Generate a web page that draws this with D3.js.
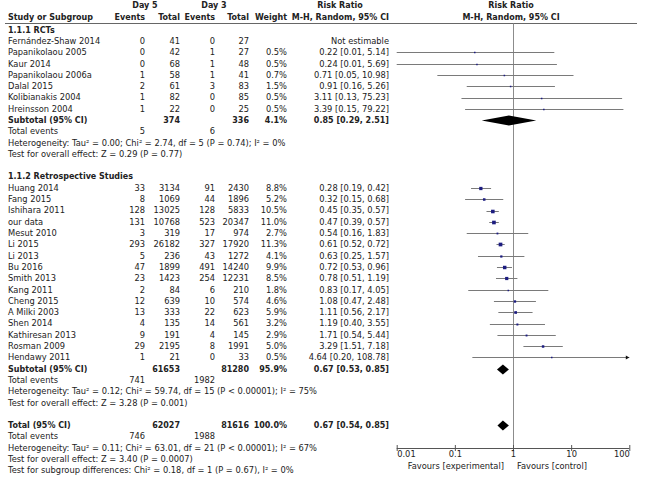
<!DOCTYPE html>
<html><head><meta charset="utf-8">
<script src="https://cdn.jsdelivr.net/npm/d3@7"></script>
<style>
html,body{margin:0;padding:0;background:#fff;}
text{font-family:"DejaVu Sans",sans-serif;font-size:8.3px;fill:#222;}
text.b{font-weight:bold;font-size:8px;}
</style></head>
<body>
<svg id="c" width="652" height="480"></svg>
<script>
// ---------- data ----------
const rctNames = ["Fernández-Shaw 2014","Papanikolaou 2005","Kaur 2014","Papanikolaou 2006a","Dalal 2015","Kolibianakis 2004","Hreinsson 2004"];
const rctEv5   = [0,0,0,1,2,1,1];
const rctTot5  = [41,42,68,58,61,82,22];
const rctEv3   = [0,1,1,1,3,0,0];
const rctTot3  = [27,27,48,41,83,85,25];
const rctWeight= [null,0.5,0.5,0.7,1.5,0.5,0.5];
const rctRR    = [null,0.22,0.24,0.71,0.91,3.11,3.39];
const rctLo    = [null,0.01,0.01,0.05,0.16,0.13,0.15];
const rctHi    = [null,5.14,5.69,10.98,5.26,75.23,79.22];
const rctSub   = {tot5:374, tot3:336, w:4.1, rr:0.85, lo:0.29, hi:2.51, ev5:5, ev3:6};
const rctHet   = "Heterogeneity: Tau² = 0.00; Chi² = 2.74, df = 5 (P = 0.74); I² = 0%";
const rctTest  = "Test for overall effect: Z = 0.29 (P = 0.77)";

const retNames = ["Huang 2014","Fang 2015","Ishihara 2011","our data","Mesut 2010","Li 2015","Li 2013","Bu 2016","Smith 2013","Kang 2011","Cheng 2015","A Milki 2003","Shen 2014","Kathiresan 2013","Rosman 2009","Hendawy 2011"];
const retEv5   = [33,8,128,131,3,293,5,47,23,2,12,13,4,9,29,1];
const retTot5  = [3134,1069,13025,10768,319,26182,236,1899,1423,84,639,333,135,191,2195,21];
const retEv3   = [91,44,128,523,17,327,43,491,254,6,10,22,14,4,8,0];
const retTot3  = [2430,1896,5833,20347,974,17920,1272,14240,12231,210,574,623,561,145,1991,33];
const retWeight= [8.8,5.2,10.5,11.0,2.7,11.3,4.1,9.9,8.5,1.8,4.6,5.9,3.2,2.9,5.0,0.5];
const retRR    = [0.28,0.32,0.45,0.47,0.54,0.61,0.63,0.72,0.78,0.83,1.08,1.11,1.19,1.71,3.29,4.64];
const retLo    = [0.19,0.15,0.35,0.39,0.16,0.52,0.25,0.53,0.51,0.17,0.47,0.56,0.40,0.54,1.51,0.20];
const retHi    = [0.42,0.68,0.57,0.57,1.83,0.72,1.57,0.96,1.19,4.05,2.48,2.17,3.55,5.44,7.18,108.78];
const retSub   = {tot5:61653, tot3:81280, w:95.9, rr:0.67, lo:0.53, hi:0.85, ev5:741, ev3:1982};
const retHet   = "Heterogeneity: Tau² = 0.12; Chi² = 59.74, df = 15 (P < 0.00001); I² = 75%";
const retTest  = "Test for overall effect: Z = 3.28 (P = 0.001)";

const total    = {tot5:62027, tot3:81616, w:100.0, rr:0.67, lo:0.54, hi:0.85, ev5:746, ev3:1988};
const totHet   = "Heterogeneity: Tau² = 0.11; Chi² = 63.01, df = 21 (P < 0.00001); I² = 67%";
const totTest  = "Test for overall effect: Z = 3.40 (P = 0.0007)";
const subgroupTest = "Test for subgroup differences: Chi² = 0.18, df = 1 (P = 0.67), I² = 0%";

const tickValues = [0.01,0.1,1,10,100];
const tickLabels = ["0.01","0.1","1","10","100"];

// ---------- layout ----------
const svg = d3.select("#c");
const x = d3.scaleLog().domain([0.01,100]).range([396.7,629.3]);
const rowY = i => 7.1 + 11.3*i;
const col = {name:8, ev5:145, tot5:180, ev3:215, tot3:249, w:287, rr:389};
const fmt2 = d3.format(".2f");
const rrText = (r,l,h) => `${fmt2(r)} [${fmt2(l)}, ${fmt2(h)}]`;

function txt(xx, yy, s, anchor, bold){
  svg.append("text").attr("x",xx).attr("y",yy).attr("dy","0.35em")
    .attr("text-anchor",anchor||"start").attr("class",bold?"b":null).text(s);
}

// headers
txt(145,5.5,"Day 5","middle",true);
txt(214,5.5,"Day 3","middle",true);
txt(340,5.5,"Risk Ratio","middle",true);
txt(511,5.5,"Risk Ratio","middle",true);
txt(col.name,17,"Study or Subgroup","start",true);
txt(col.ev5,17,"Events","end",true);
txt(col.tot5,17,"Total","end",true);
txt(col.ev3,17,"Events","end",true);
txt(col.tot3,17,"Total","end",true);
txt(col.w,17,"Weight","end",true);
txt(col.rr,17,"M-H, Random, 95% CI","end",true);
txt(511,17,"M-H, Random, 95% CI","middle",true);
svg.append("line").attr("x1",5).attr("x2",637).attr("y1",23.5).attr("y2",23.5)
  .attr("stroke","#666").attr("stroke-width",1);

// null line
svg.append("line").attr("x1",Math.round(x(1))+0.5).attr("x2",Math.round(x(1))+0.5)
  .attr("y1",23.5).attr("y2",448).attr("stroke","#8c8c8c").attr("stroke-width",1);

function study(i, name, e5, t5, e3, t3, w, rr, lo, hi){
  const y = rowY(i);
  txt(col.name,y,name);
  txt(col.ev5,y,String(e5),"end");
  txt(col.tot5,y,String(t5),"end");
  txt(col.ev3,y,String(e3),"end");
  txt(col.tot3,y,String(t3),"end");
  if (rr==null){ txt(col.rr,y,"Not estimable","end"); return; }
  txt(col.w,y,w.toFixed(1)+"%","end");
  txt(col.rr,y,rrText(rr,lo,hi),"end");
  const yl = Math.round(y)+0.5;
  const xa = x(Math.max(lo,0.01)), xb = x(Math.min(hi,100));
  svg.append("line").attr("x1",xa).attr("x2",xb).attr("y1",yl).attr("y2",yl)
    .attr("stroke","#7a7a7a").attr("stroke-width",1);
  if (lo<0.01){
    svg.append("path").attr("d",`M${xa},${yl} l3.5,-2 l0,4 Z`).attr("fill","#111");
  }
  if (hi>100){
    svg.append("path").attr("d",`M${xb},${yl} l-3.5,-2 l0,4 Z`).attr("fill","#111");
  }
  const s = Math.max(1.5, 1.1*Math.sqrt(w));
  svg.append("rect").attr("x",x(rr)-s/2).attr("y",yl-s/2).attr("width",s).attr("height",s)
    .attr("fill","#1c1c80");
}

function summary(i, label, d){
  const y = rowY(i);
  txt(col.name,y,label,"start",true);
  txt(col.tot5,y,String(d.tot5),"end",true);
  txt(col.tot3,y,String(d.tot3),"end",true);
  txt(col.w,y,d.w.toFixed(1)+"%","end",true);
  txt(col.rr,y,rrText(d.rr,d.lo,d.hi),"end",true);
  const yl = Math.round(y)+0.5;
  svg.append("path")
    .attr("d",`M${x(d.lo)},${yl} L${x(d.rr)},${yl-5} L${x(d.hi)},${yl} L${x(d.rr)},${yl+5} Z`)
    .attr("fill","#000");
  txt(col.name,rowY(i+1),"Total events");
  txt(col.ev5,rowY(i+1),String(d.ev5),"end");
  txt(col.ev3,rowY(i+1),String(d.ev3),"end");
}

// group 1
txt(col.name,rowY(2),"1.1.1 RCTs","start",true);
rctNames.forEach((n,k)=>study(3+k,n,rctEv5[k],rctTot5[k],rctEv3[k],rctTot3[k],rctWeight[k],rctRR[k],rctLo[k],rctHi[k]));
summary(10,"Subtotal (95% CI)",rctSub);
txt(col.name,rowY(12),rctHet);
txt(col.name,rowY(13),rctTest);

// group 2
txt(col.name,rowY(15),"1.1.2 Retrospective Studies","start",true);
retNames.forEach((n,k)=>study(16+k,n,retEv5[k],retTot5[k],retEv3[k],retTot3[k],retWeight[k],retRR[k],retLo[k],retHi[k]));
summary(32,"Subtotal (95% CI)",retSub);
txt(col.name,rowY(34),retHet);
txt(col.name,rowY(35),retTest);

// total
summary(37,"Total (95% CI)",total);
txt(col.name,rowY(39),totHet);
txt(col.name,rowY(40),totTest);
txt(col.name,rowY(41),subgroupTest);

// axis
const axisY = 448;
svg.append("line").attr("x1",x(0.01)).attr("x2",x(100)).attr("y1",axisY+0.5).attr("y2",axisY+0.5)
  .attr("stroke","#555").attr("stroke-width",1);
const ax = svg.append("g").attr("transform",`translate(0,${axisY-3})`)
  .call(d3.axisBottom(x).tickValues(tickValues).tickSize(6).tickSizeOuter(0)
    .tickFormat((d,i)=>tickLabels[i]));
ax.select(".domain").remove();
ax.selectAll("line").attr("stroke","#555");
ax.selectAll("text").attr("y",9).attr("dy","0.35em").style("font-family","'DejaVu Sans',sans-serif")
  .style("font-size","8.3px").attr("fill","#222")
  .attr("text-anchor",(d,i)=> i===0 ? "start" : (i===tickValues.length-1 ? "end" : "middle"));
txt(x(1)-9,466,"Favours [experimental]","end");
txt(x(1)+4,466,"Favours [control]","start");
</script>
</body></html>
